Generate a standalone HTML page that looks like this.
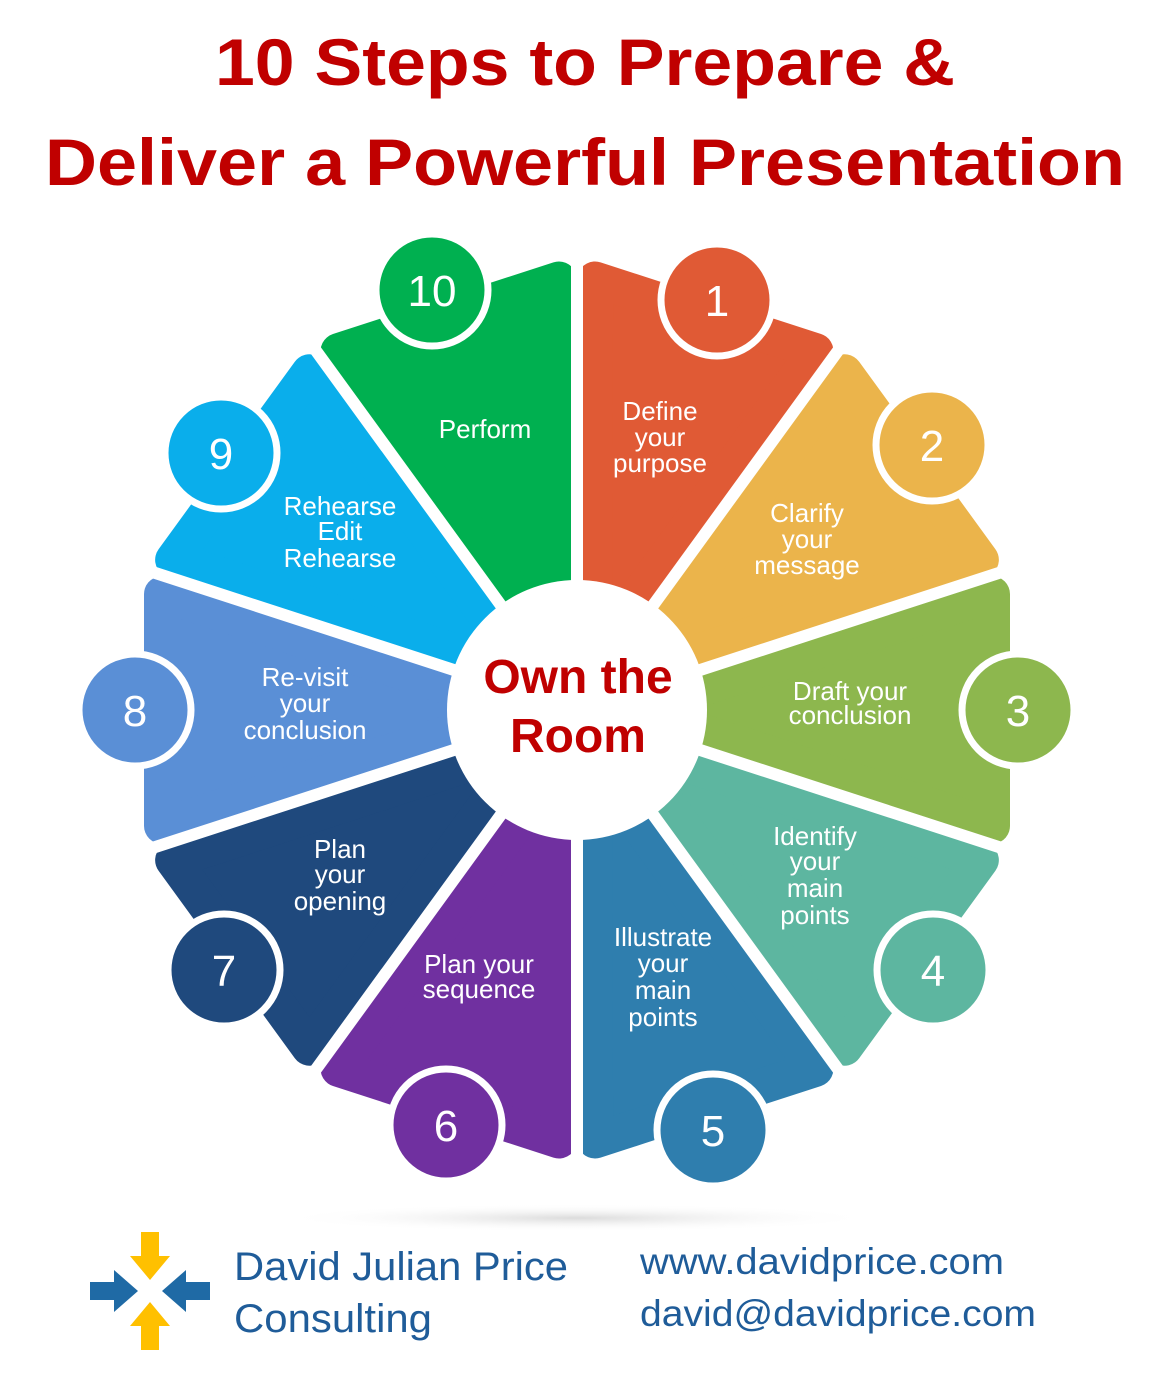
<!DOCTYPE html>
<html><head><meta charset="utf-8"><style>
html,body{margin:0;padding:0;background:#fff;}
svg{display:block;}
</style></head><body>
<svg width="1162" height="1384" viewBox="0 0 1162 1384" xmlns="http://www.w3.org/2000/svg">
<defs>
<radialGradient id="sh" cx="50%" cy="50%" r="50%"><stop offset="0" stop-color="#ccc" stop-opacity="0.7"/><stop offset="1" stop-color="#fff" stop-opacity="0"/></radialGradient>
</defs>
<rect width="1162" height="1384" fill="#fff"/>
<text x="585" y="85" text-anchor="middle" font-family="Liberation Sans, sans-serif" font-weight="bold" font-size="66" fill="#C00000" textLength="740" lengthAdjust="spacingAndGlyphs">10 Steps to Prepare &amp;</text>
<text x="585" y="185" text-anchor="middle" font-family="Liberation Sans, sans-serif" font-weight="bold" font-size="66" fill="#C00000" textLength="1080" lengthAdjust="spacingAndGlyphs">Deliver a Powerful Presentation</text>

<ellipse cx="577" cy="1218" rx="300" ry="14" fill="url(#sh)"/>

<g transform="translate(577,710)">
<g stroke-linejoin="round" stroke-width="36">
<path transform="rotate(18)" d="M0,-58 L115.9,-415 L-115.9,-415 Z" fill="#E05A35" stroke="#E05A35"/>
<path transform="rotate(54)" d="M0,-58 L115.9,-415 L-115.9,-415 Z" fill="#EBB44B" stroke="#EBB44B"/>
<path transform="rotate(90)" d="M0,-58 L115.9,-415 L-115.9,-415 Z" fill="#8DB74E" stroke="#8DB74E"/>
<path transform="rotate(126)" d="M0,-58 L115.9,-415 L-115.9,-415 Z" fill="#5DB6A0" stroke="#5DB6A0"/>
<path transform="rotate(162)" d="M0,-58 L115.9,-415 L-115.9,-415 Z" fill="#2F7EAE" stroke="#2F7EAE"/>
<path transform="rotate(198)" d="M0,-58 L115.9,-415 L-115.9,-415 Z" fill="#7030A0" stroke="#7030A0"/>
<path transform="rotate(234)" d="M0,-58 L115.9,-415 L-115.9,-415 Z" fill="#1F497D" stroke="#1F497D"/>
<path transform="rotate(270)" d="M0,-58 L115.9,-415 L-115.9,-415 Z" fill="#5A8FD6" stroke="#5A8FD6"/>
<path transform="rotate(306)" d="M0,-58 L115.9,-415 L-115.9,-415 Z" fill="#0AAEEB" stroke="#0AAEEB"/>
<path transform="rotate(342)" d="M0,-58 L115.9,-415 L-115.9,-415 Z" fill="#00B050" stroke="#00B050"/>
</g>
<g stroke="#fff" stroke-width="12">
<line x1="0" y1="0" x2="0" y2="-470" transform="rotate(0)"/>
<line x1="0" y1="0" x2="0" y2="-470" transform="rotate(36)"/>
<line x1="0" y1="0" x2="0" y2="-470" transform="rotate(72)"/>
<line x1="0" y1="0" x2="0" y2="-470" transform="rotate(108)"/>
<line x1="0" y1="0" x2="0" y2="-470" transform="rotate(144)"/>
<line x1="0" y1="0" x2="0" y2="-470" transform="rotate(180)"/>
<line x1="0" y1="0" x2="0" y2="-470" transform="rotate(216)"/>
<line x1="0" y1="0" x2="0" y2="-470" transform="rotate(252)"/>
<line x1="0" y1="0" x2="0" y2="-470" transform="rotate(288)"/>
<line x1="0" y1="0" x2="0" y2="-470" transform="rotate(324)"/>
</g>
<circle r="130" fill="#fff"/>
</g>

<g stroke="#fff" stroke-width="7">
<circle cx="717" cy="300" r="56" fill="#E05A35"/>
<circle cx="932" cy="445" r="56" fill="#EBB44B"/>
<circle cx="1018" cy="710" r="56" fill="#8DB74E"/>
<circle cx="933" cy="970" r="56" fill="#5DB6A0"/>
<circle cx="713" cy="1130" r="56" fill="#2F7EAE"/>
<circle cx="446" cy="1125" r="56" fill="#7030A0"/>
<circle cx="224" cy="970" r="56" fill="#1F497D"/>
<circle cx="135" cy="710" r="56" fill="#5A8FD6"/>
<circle cx="221" cy="453" r="56" fill="#0AAEEB"/>
<circle cx="432" cy="290" r="56" fill="#00B050"/>
</g>
<g font-family="Liberation Sans, sans-serif" font-size="44" fill="#fff" text-anchor="middle">
<text x="717" y="316">1</text>
<text x="932" y="461">2</text>
<text x="1018" y="726">3</text>
<text x="933" y="986">4</text>
<text x="713" y="1146">5</text>
<text x="446" y="1141">6</text>
<text x="224" y="986">7</text>
<text x="135" y="726">8</text>
<text x="221" y="469">9</text>
<text x="432" y="306">10</text>
</g>

<g font-family="Liberation Sans, sans-serif" font-size="26" fill="#fff" text-anchor="middle">
<text x="660" y="420">Define</text><text x="660" y="446">your</text><text x="660" y="472">purpose</text>
<text x="807" y="522">Clarify</text><text x="807" y="548">your</text><text x="807" y="574">message</text>
<text x="850" y="700">Draft your</text><text x="850" y="724">conclusion</text>
<text x="815" y="845">Identify</text><text x="815" y="870">your</text><text x="815" y="897">main</text><text x="815" y="924">points</text>
<text x="663" y="946">Illustrate</text><text x="663" y="972">your</text><text x="663" y="999">main</text><text x="663" y="1026">points</text>
<text x="479" y="973">Plan your</text><text x="479" y="998">sequence</text>
<text x="340" y="858">Plan</text><text x="340" y="883">your</text><text x="340" y="910">opening</text>
<text x="305" y="686">Re-visit</text><text x="305" y="712">your</text><text x="305" y="739">conclusion</text>
<text x="340" y="515">Rehearse</text><text x="340" y="540">Edit</text><text x="340" y="567">Rehearse</text>
<text x="485" y="438">Perform</text>
</g>
<g font-family="Liberation Sans, sans-serif" font-weight="bold" font-size="48" fill="#C00000" text-anchor="middle">
<text x="578" y="693">Own the</text>
<text x="578" y="752">Room</text>
</g>

<!-- logo -->
<g>
<polygon points="141,1232 159,1232 159,1256 170,1256 150,1280 130,1256 141,1256" fill="#FFC000"/>
<polygon points="141,1350 159,1350 159,1326 170,1326 150,1302 130,1326 141,1326" fill="#FFC000"/>
<polygon points="90,1282 114,1282 114,1270 138,1291 114,1312 114,1300 90,1300" fill="#1F6AA5"/>
<polygon points="210,1282 186,1282 186,1270 162,1291 186,1312 186,1300 210,1300" fill="#1F6AA5"/>
</g>
<g font-family="Liberation Sans, sans-serif" fill="#1F5C99" font-size="40">
<text x="234" y="1280" textLength="334" lengthAdjust="spacingAndGlyphs">David Julian Price</text>
<text x="234" y="1332" textLength="198" lengthAdjust="spacingAndGlyphs">Consulting</text>
<text x="640" y="1274" font-size="37" textLength="364" lengthAdjust="spacingAndGlyphs">www.davidprice.com</text>
<text x="640" y="1326" font-size="37" textLength="396" lengthAdjust="spacingAndGlyphs">david@davidprice.com</text>
</g>
</svg>
</body></html>
